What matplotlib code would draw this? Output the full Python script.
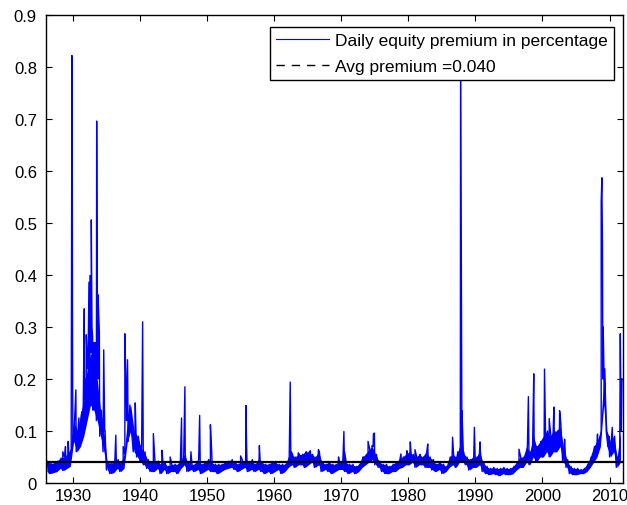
import numpy as np
import matplotlib
matplotlib.use("Agg")
import matplotlib.pyplot as plt
from matplotlib.lines import Line2D

plt.rcParams['font.family'] = ['Liberation Sans', 'DejaVu Sans']

# --- datos ---

# nivel base, 4 valores por anio (1926 .. 2011)
base_vals = [
    .022, .042, .018, .038,  .020, .038, .022, .042,  .028, .048, .024, .050,  .028, .055, .032, .065,  # 1926-1929
    .080, .120, .060, .100,  .070, .130, .090, .160,  .120, .220, .150, .250,  .140, .240, .120, .200,  # 1930-1933
    .090, .140, .060, .100,  .025, .040, .018, .038,  .020, .040, .028, .045,  .022, .038, .028, .055,  # 1934-1937
    .120, .080, .150, .100,  .060, .100, .050, .090,  .040, .070, .035, .060,  .028, .045, .022, .040,  # 1938-1941
    .022, .040, .028, .042,  .018, .036, .026, .040,  .018, .032, .022, .036,  .022, .036, .018, .036,  # 1942-1945
    .028, .045, .035, .055,  .022, .040, .026, .036,  .022, .036, .026, .045,  .018, .036, .022, .040,  # 1946-1949
    .026, .045, .022, .040,  .022, .036, .018, .036,  .022, .036, .026, .040,  .028, .042, .030, .045,  # 1950-1953
    .026, .040, .022, .036,  .026, .045, .030, .040,  .022, .040, .026, .045,  .022, .036, .026, .045,  # 1954-1957
    .022, .040, .018, .036,  .022, .036, .018, .040,  .022, .040, .026, .036,  .018, .036, .022, .036,  # 1958-1961
    .030, .050, .035, .055,  .030, .050, .035, .055,  .035, .055, .030, .060,  .035, .060, .040, .055,  # 1962-1965
    .030, .050, .035, .060,  .022, .040, .026, .036,  .022, .040, .018, .036,  .022, .036, .026, .040,  # 1966-1969
    .026, .045, .022, .040,  .018, .036, .022, .036,  .018, .032, .022, .036,  .030, .050, .035, .055,  # 1970-1973
    .040, .065, .045, .070,  .035, .055, .030, .042,  .022, .036, .018, .036,  .018, .032, .022, .036,  # 1974-1977
    .022, .040, .028, .045,  .030, .050, .035, .055,  .035, .060, .040, .055,  .030, .050, .035, .055,  # 1978-1981
    .035, .050, .030, .060,  .030, .050, .025, .045,  .022, .036, .026, .040,  .018, .036, .022, .032,  # 1982-1985
    .030, .050, .035, .055,  .030, .050, .040, .070,  .040, .060, .035, .050,  .025, .045, .030, .050,  # 1986-1989
    .030, .050, .035, .060,  .022, .040, .018, .032,  .016, .028, .018, .030,  .016, .028, .014, .028,  # 1990-1993
    .018, .030, .016, .028,  .016, .028, .018, .032,  .025, .040, .030, .050,  .030, .050, .040, .070,  # 1994-1997
    .035, .060, .050, .090,  .040, .070, .050, .080,  .050, .090, .060, .100,  .050, .090, .060, .100,  # 1998-2001
    .060, .100, .070, .110,  .040, .070, .030, .045,  .018, .032, .016, .028,  .016, .028, .018, .026,  # 2002-2005
    .018, .028, .022, .036,  .030, .050, .040, .070,  .050, .080, .070, .100,  .200, .150, .100, .070,  # 2006-2009
    .050, .080, .060, .090,  .030, .050, .040, .100,                                                    # 2010-2011
]
base_years = 1926 + 0.25 * np.arange(len(base_vals))

# picos
spike_years = [1928.5, 1928.9, 1929.3, 1929.82, 1929.86, 1929.9, 1929.95,
               1930.2, 1930.45, 1930.9, 1931.35, 1931.7, 1931.8, 1932.0, 1932.2,
               1932.4, 1932.55, 1932.75, 1932.85, 1932.95, 1933.1, 1933.2, 1933.3,
               1933.55, 1933.65, 1933.75, 1933.95, 1934.2, 1934.6, 1934.8,
               1936.4, 1937.5, 1937.75, 1937.9, 1938.15, 1938.4, 1938.65, 1939.3,
               1939.9, 1940.4, 1942.0, 1943.3, 1944.5, 1946.2, 1946.7, 1947.6,
               1948.9, 1950.5, 1950.7, 1955.0, 1955.8, 1955.9, 1957.8, 1962.4,
               1962.55, 1963.6, 1964.8, 1965.4, 1966.6, 1969.6, 1970.4, 1970.5,
               1973.3, 1974.0, 1974.6, 1974.8, 1974.95, 1978.9, 1979.8, 1980.3,
               1981.0, 1981.8, 1982.9, 1986.6, 1987.4, 1987.8, 1988.0, 1988.2,
               1989.85, 1990.7, 1996.5, 1997.9, 1998.7, 2000.3, 2001.0, 2001.7,
               2002.55, 2002.65, 2003.3, 2008.2, 2008.75, 2008.85, 2008.95,
               2009.05, 2009.25, 2009.45, 2009.9, 2010.4, 2011.6, 2011.7, 2011.85]
spike_vals = [0.06, 0.07, 0.08, 0.56, 0.822, 0.766, 0.30,
              0.10, 0.179, 0.125, 0.137, 0.335, 0.20, 0.285, 0.22,
              0.386, 0.399, 0.506, 0.30, 0.28, 0.27, 0.18, 0.27,
              0.696, 0.30, 0.362, 0.29, 0.12, 0.256, 0.10,
              0.092, 0.07, 0.287, 0.20, 0.237, 0.12, 0.13, 0.154,
              0.075, 0.31, 0.095, 0.063, 0.05, 0.125, 0.185, 0.06,
              0.13, 0.112, 0.06, 0.052, 0.149, 0.07, 0.072, 0.194,
              0.06, 0.058, 0.06, 0.062, 0.064, 0.05, 0.099, 0.06,
              0.05, 0.08, 0.072, 0.094, 0.096, 0.056, 0.062, 0.079,
              0.064, 0.053, 0.075, 0.088, 0.06, 0.86, 0.139, 0.06,
              0.107, 0.079, 0.065, 0.166, 0.21, 0.219, 0.124, 0.146,
              0.139, 0.13, 0.084, 0.094, 0.54, 0.587, 0.45,
              0.30, 0.22, 0.14, 0.09, 0.107, 0.287, 0.14, 0.20]

avg_premium = 0.040

# unir y ordenar por fecha
t = np.concatenate([base_years, spike_years])
prem = np.concatenate([base_vals, spike_vals])
orden = np.argsort(t, kind="stable")
t = t[orden]
prem = prem[orden]

# banda densa de los datos diarios: min/max de cada medio anio
pares = np.array(base_vals).reshape(-1, 2)
banda_lo = pares.min(axis=1)
banda_hi = pares.max(axis=1)
banda_t = base_years[0::2] + 0.125

fig = plt.figure(figsize=(6.27, 5.06), dpi=100)
ax = fig.add_axes([0.0734, 0.0435, 0.9202, 0.9249])

ax.fill_between(banda_t, banda_lo, banda_hi, color=(0, 0, 1), lw=0)
ax.plot(t, prem, color=(0, 0, 1), lw=1.0)
ax.axhline(avg_premium, color="k", lw=1.6)

ax.set_xlim(1926, 2012)
ax.set_ylim(0, 0.9)
ax.set_xticks(np.arange(1930, 2011, 10))
ax.set_yticks(np.arange(0, 0.91, 0.1))
ax.set_yticklabels(["0", "0.1", "0.2", "0.3", "0.4", "0.5", "0.6", "0.7", "0.8", "0.9"])
ax.tick_params(direction="in", length=4, width=0.8, labelsize=12, top=True, right=True)
ax.tick_params(axis="y", pad=6.5)
ax.tick_params(axis="x", pad=3.5)
for s in ax.spines.values():
    s.set_linewidth(1.0)

handles = [Line2D([], [], color=(0, 0, 1), lw=0.8),
           Line2D([], [], color="k", lw=1.0, ls=(0, (6, 5)))]
leg = ax.legend(handles, ["Daily equity premium in percentage", "Avg premium =0.040"],
                loc="upper right", bbox_to_anchor=(0.984, 0.974), borderaxespad=0,
                fontsize=12.5, handlelength=3.05, fancybox=False, framealpha=1,
                edgecolor="k", borderpad=0.35, labelspacing=0.6, handletextpad=0.35)
leg.get_frame().set_linewidth(1.0)

fig.savefig("out.png", dpi=100)
